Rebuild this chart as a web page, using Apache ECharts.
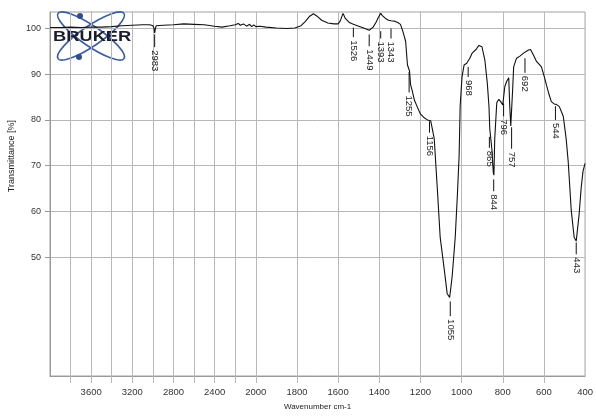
<!DOCTYPE html>
<html>
<head>
<meta charset="utf-8">
<script src="https://cdn.jsdelivr.net/npm/echarts@6/dist/echarts.min.js"></script>
<style>html,body{margin:0;padding:0;background:#fff}#c{width:596px;height:416px}</style>
</head>
<body>
<div id="c"></div>
<script>
// ---- data ----
const wavenumbers = [4000,3900,3800,3700,3600,3500,3400,3300,3200,3100,3030,3000,2990,2983,2976,2968,2950,2900,2800,2700,2600,2500,2400,2330,2250,2200,2170,2150,2120,2090,2060,2040,2020,2000,1980,1950,1900,1850,1810,1780,1760,1740,1720,1700,1680,1650,1620,1600,1590,1576,1565,1545,1526,1500,1470,1449,1430,1415,1402,1393,1385,1370,1355,1343,1325,1310,1297,1285,1272,1263,1253,1248,1240,1229,1215,1200,1185,1166,1150,1142,1133,1118,1104,1084,1070,1058,1046,1031,1020,1012,1007,998,988,975,968,960,949,930,916,901,887,875,867,863,853,846,843,839,829,819,810,800,796,790,780,771,766,761,757,752,747,733,715,699,692,675,665,651,636,612,598,578,564,550,540,525,506,492,482,467,453,443,429,419,410,400];
const transmittance = [100.2,100.2,100.3,100.2,100.3,100.3,100.4,100.6,100.7,100.8,100.8,100.6,100.1,99.0,99.9,100.6,100.4,100.7,100.8,101.0,100.9,100.8,100.5,100.3,100.6,100.8,101.1,100.7,101.0,100.5,100.9,100.4,100.8,100.4,100.5,100.3,100.1,100.0,100.1,100.6,101.5,102.6,103.2,102.6,101.8,101.2,101.0,101.0,101.6,103.3,102.2,101.3,100.9,100.5,100.0,99.6,100.3,101.4,102.6,103.3,102.8,102.2,101.8,101.7,101.6,101.3,100.9,99.3,97.2,92.0,90.7,87.7,86.4,84.3,82.8,81.3,80.6,80.0,79.8,79.5,75.9,65.0,54.3,47.2,42.0,41.2,45.7,54.3,64.0,72.2,83.0,89.4,92.0,92.4,92.5,93.5,94.6,95.4,96.3,96.0,93.1,88.0,83.0,78.0,73.7,68.5,67.9,75.9,83.8,84.5,84.0,83.3,83.3,87.3,88.5,89.2,83.0,78.7,78.5,86.6,91.6,93.5,94.0,94.6,94.8,95.3,95.4,94.2,92.8,91.6,89.4,86.0,84.0,83.5,83.4,82.9,80.8,75.9,70.9,60.1,54.3,53.5,59.3,65.1,68.8,70.5];

const peakWavenumbers = [2983,1526,1449,1393,1343,1255,1156,1055,968,865,844,796,757,692,544,443];
const peakLineTopT    = [98.7,100.2,98.7,99.4,100.0,90.5,79.7,40.3,91.6,76.3,67.0,83.6,78.4,93.5,83.0,53.2];
const peakLineBottomT = [95.9,98.1,96.1,97.8,97.8,86.0,77.2,37.1,89.4,73.9,64.4,80.8,73.7,90.3,80.0,50.6];

const xTickLabels = [3600,3200,2800,2400,2000,1800,1600,1400,1200,1000,800,600,400];
const xGridWavenumbers = [3800,3600,3400,3200,3000,2800,2600,2400,2200,2000,1800,1600,1400,1200,1000,800,600];
const yTickLabels = [50,60,70,80,90,100];

// ---- axis transform: 4000-2000 compressed 2:1 ----
const toU = w => (w <= 2000 ? w : 2000 + (w - 2000) / 2);
const fromU = u => (u <= 2000 ? u : 2000 + (u - 2000) * 2);

const FONT = 'Liberation Sans';
const NARROW = '"Liberation Sans Narrow", "Liberation Sans"';
const gridColor = '#b8b8b8';

const chart = echarts.init(document.getElementById('c'), null, {renderer: 'canvas'});
chart.setOption({
  animation: false,
  grid: {left: 50, right: 8, top: 12, bottom: 35, show: true, borderColor: '#a0a0a0', borderWidth: 1},
  xAxis: {
    type: 'value', min: toU(400), max: toU(4000), inverse: true,
    name: 'Wavenumber cm-1', nameLocation: 'middle', nameGap: 27,
    nameTextStyle: {fontFamily: FONT, fontSize: 8, color: '#222'},
    axisLine: {show: true, lineStyle: {color: '#999'}},
    axisTick: {show: true, length: 7, customValues: xGridWavenumbers.map(toU), lineStyle: {color: gridColor}},
    axisLabel: {customValues: xTickLabels.map(toU), formatter: v => String(Math.round(fromU(v))), margin: 11,
      fontFamily: NARROW, fontSize: 9.5, color: '#333'},
    splitLine: {show: true, lineStyle: {color: gridColor, width: 1}}
  },
  yAxis: {
    type: 'value', min: 24, max: 103.6,
    axisLine: {show: true, lineStyle: {color: '#999'}},
    axisTick: {show: true, length: 5, customValues: yTickLabels, lineStyle: {color: '#999'}},
    axisLabel: {customValues: yTickLabels, margin: 9, fontFamily: FONT, fontSize: 9, color: '#333'},
    splitLine: {show: true, lineStyle: {color: gridColor, width: 1}}
  },
  series: [
    {
      type: 'line', showSymbol: false, symbol: 'none',
      lineStyle: {color: '#111', width: 1.1},
      data: wavenumbers.map((w, i) => [toU(w), transmittance[i]]),
      z: 3
    },
    {
      type: 'custom', clip: false, z: 4,
      data: peakWavenumbers.map((w, i) => [toU(w), peakLineTopT[i], peakLineBottomT[i], w]),
      renderItem: (params, api) => {
        const p1 = api.coord([api.value(0), api.value(1)]);
        const p2 = api.coord([api.value(0), api.value(2)]);
        return {
          type: 'group',
          children: [
            {type: 'line', shape: {x1: p1[0], y1: p1[1], x2: p2[0], y2: p2[1]}, style: {stroke: '#111', lineWidth: 1}},
            {type: 'text', x: p2[0], y: p2[1] + 3, rotation: -Math.PI / 2,
              style: {text: String(api.value(3)), fontFamily: FONT, fontSize: 9.5, fill: '#222', align: 'left', verticalAlign: 'middle'}}
          ]
        };
      }
    }
  ],
  graphic: [
    {type: 'text', left: 7, top: 120, rotation: Math.PI / 2,
      style: {text: 'Transmittance [%]', fontFamily: FONT, fontSize: 9, fill: '#222'}},
    {type: 'group', x: 0, y: 0, children: [
      {type: 'ellipse', x: 91, y: 36, rotation: 0.6, shape: {cx: 0, cy: 0, rx: 40, ry: 10}, style: {fill: 'none', stroke: '#3d5e9e', lineWidth: 1.6}},
      {type: 'ellipse', x: 91, y: 36, rotation: -0.6, shape: {cx: 0, cy: 0, rx: 40, ry: 10}, style: {fill: 'none', stroke: '#3d5e9e', lineWidth: 1.6}},
      {type: 'circle', shape: {cx: 80, cy: 16, r: 3}, style: {fill: '#2d4f8e'}},
      {type: 'circle', shape: {cx: 79, cy: 57, r: 3}, style: {fill: '#2d4f8e'}},
      {type: 'text', x: 53, y: 29, scaleX: 1.22,
        style: {text: 'BRUKER', fontFamily: FONT, fontWeight: 'bold', fontSize: 15, fill: '#1b1b2e', verticalAlign: 'top'}}
    ]}
  ]
});
</script>
</body>
</html>
